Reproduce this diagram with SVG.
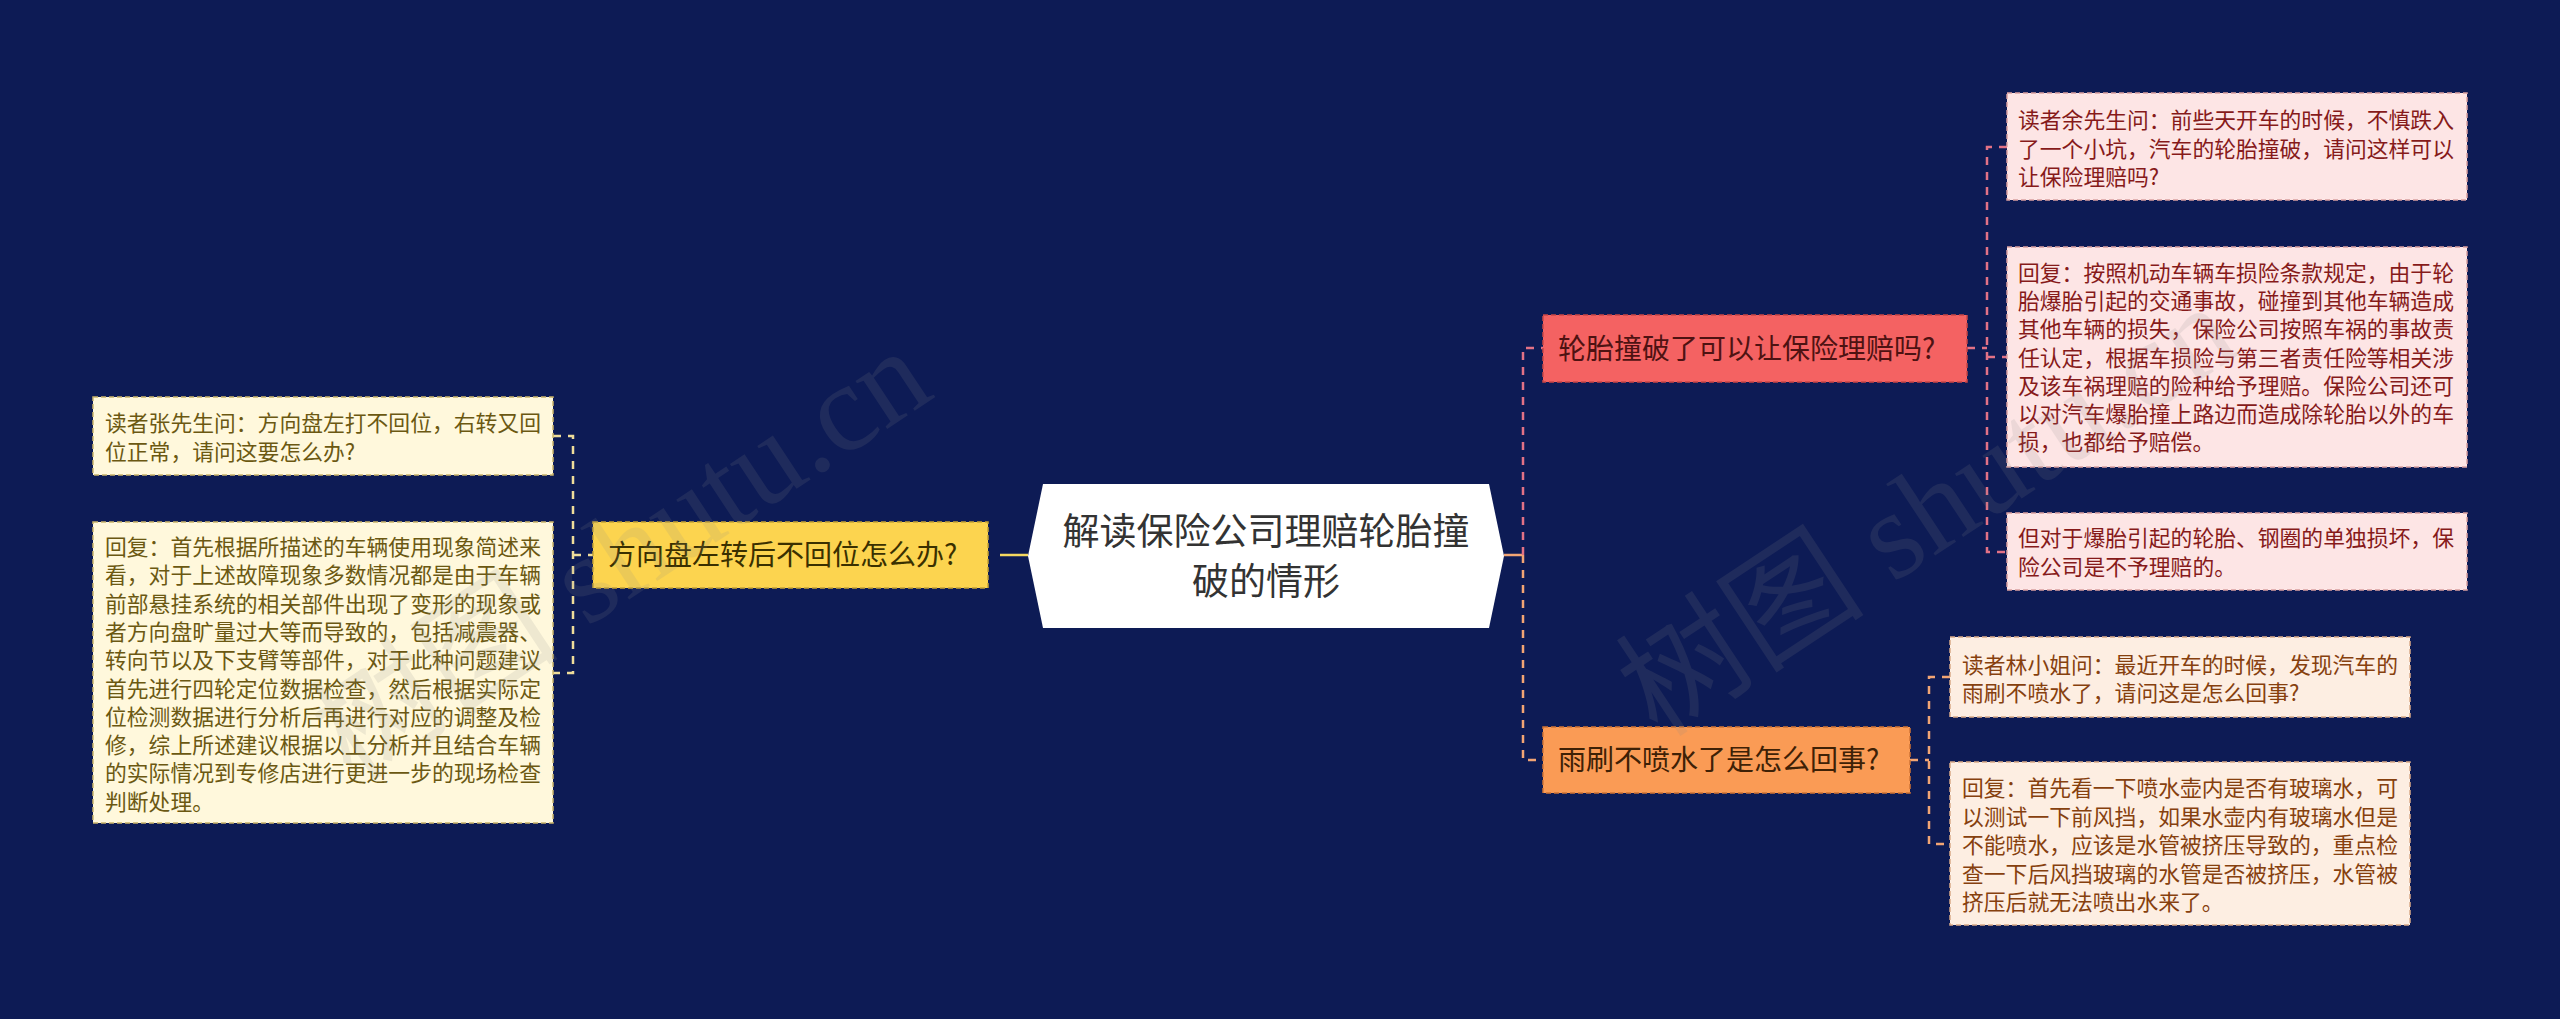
<svg xmlns="http://www.w3.org/2000/svg" width="2560" height="1019" viewBox="0 0 2560 1019">
<style>
.cjk{font-family:"Noto Sans CJK SC","Noto Sans",sans-serif;}
.leaf{font-size:21.8px;}
.br{font-size:28px;}
.rootT{font-size:37px;fill:#333333;}
.yl rect{fill:#fff8dc;stroke:#c9b46a;stroke-width:1.5;stroke-dasharray:5 3;}
.yl text{fill:#6b5812;}
.rl rect{fill:#fde5e5;stroke:#d9a0a0;stroke-width:1.5;stroke-dasharray:5 3;}
.rl text{fill:#861a1a;}
.ol rect{fill:#fdeee2;stroke:#d9aa88;stroke-width:1.5;stroke-dasharray:5 3;}
.ol text{fill:#86400e;}
.conn line, .conn path{fill:none;stroke-width:2.5;}
.dy{stroke:#eedc9a;stroke-dasharray:8 7;}
.dp{stroke:#e27286;stroke-dasharray:8 7;}
.do{stroke:#f2a574;stroke-dasharray:8 7;}
.wm{font-family:"Liberation Serif","Noto Sans CJK SC",serif;font-size:125px;fill:#8a8a8a;opacity:0.14;}
</style>
<rect x="0" y="0" width="2560" height="1019" fill="#0d1b55"/>

<g id="connectors" class="conn">
  <line x1="1000" y1="555" x2="1028" y2="555" stroke="#f5d860"/>
  <line x1="573" y1="555" x2="593" y2="555" class="dy"/>
  <path d="M553 436 H573 V673 H553" class="dy"/>
  <line x1="1504" y1="555" x2="1523" y2="555" stroke="#f2a574"/>
  <path d="M1523 555 V348 H1543" class="dp"/>
  <path d="M1523 555 V760 H1543" class="do"/>
  <line x1="1967" y1="348" x2="1987" y2="348" class="dp"/>
  <path d="M2007 147 H1987 V552 H2007" class="dp"/>
  <line x1="1987" y1="357" x2="2007" y2="357" class="dp"/>
  <line x1="1910" y1="760" x2="1929" y2="760" class="do"/>
  <path d="M1950 677 H1929 V844 H1950" class="do"/>
</g>

<g id="root">
  <polygon points="1028,556 1043,484 1489,484 1504,556 1489,628 1043,628" fill="#ffffff"/>
  <text class="cjk rootT" text-anchor="middle"><tspan x="1266" y="545">解读保险公司理赔轮胎撞</tspan><tspan x="1266" y="595">破的情形</tspan></text>
</g>

<g id="branch-left">
  <rect x="593" y="522" width="395" height="66" fill="#fcd44f" stroke="#c4a236" stroke-width="1.5" stroke-dasharray="5 3"/>
  <text class="cjk br" x="608" y="565" fill="#3a3000">方向盘左转后不回位怎么办?</text>
</g>

<g id="leaf-left-1" class="yl">
  <rect x="93" y="397" width="460" height="78"/>
  <text class="cjk leaf"><tspan x="105" y="431">读者张先生问：方向盘左打不回位，右转又回</tspan><tspan x="105" y="460">位正常，请问这要怎么办?</tspan></text>
</g>

<g id="leaf-left-2" class="yl">
  <rect x="93" y="522" width="460" height="301"/>
  <text class="cjk leaf"><tspan x="105" y="555">回复：首先根据所描述的车辆使用现象简述来</tspan><tspan x="105" y="583.3">看，对于上述故障现象多数情况都是由于车辆</tspan><tspan x="105" y="611.6">前部悬挂系统的相关部件出现了变形的现象或</tspan><tspan x="105" y="639.9">者方向盘旷量过大等而导致的，包括减震器、</tspan><tspan x="105" y="668.2">转向节以及下支臂等部件，对于此种问题建议</tspan><tspan x="105" y="696.5">首先进行四轮定位数据检查，然后根据实际定</tspan><tspan x="105" y="724.8">位检测数据进行分析后再进行对应的调整及检</tspan><tspan x="105" y="753.1">修，综上所述建议根据以上分析并且结合车辆</tspan><tspan x="105" y="781.4">的实际情况到专修店进行更进一步的现场检查</tspan><tspan x="105" y="809.7">判断处理。</tspan></text>
</g>

<g id="branch-red">
  <rect x="1543" y="315" width="424" height="67" fill="#f46262" stroke="#c84646" stroke-width="1.5" stroke-dasharray="5 3"/>
  <text class="cjk br" x="1558" y="359" fill="#4e1212">轮胎撞破了可以让保险理赔吗?</text>
</g>

<g id="leaf-red-1" class="rl">
  <rect x="2007" y="93" width="460" height="107"/>
  <text class="cjk leaf"><tspan x="2018" y="128">读者余先生问：前些天开车的时候，不慎跌入</tspan><tspan x="2018" y="156.5">了一个小坑，汽车的轮胎撞破，请问这样可以</tspan><tspan x="2018" y="185">让保险理赔吗?</tspan></text>
</g>

<g id="leaf-red-2" class="rl">
  <rect x="2007" y="247" width="460" height="220"/>
  <text class="cjk leaf"><tspan x="2018" y="281">回复：按照机动车辆车损险条款规定，由于轮</tspan><tspan x="2018" y="309.2">胎爆胎引起的交通事故，碰撞到其他车辆造成</tspan><tspan x="2018" y="337.4">其他车辆的损失，保险公司按照车祸的事故责</tspan><tspan x="2018" y="365.6">任认定，根据车损险与第三者责任险等相关涉</tspan><tspan x="2018" y="393.8">及该车祸理赔的险种给予理赔。保险公司还可</tspan><tspan x="2018" y="422">以对汽车爆胎撞上路边而造成除轮胎以外的车</tspan><tspan x="2018" y="450.2">损，也都给予赔偿。</tspan></text>
</g>

<g id="leaf-red-3" class="rl">
  <rect x="2007" y="513" width="460" height="77"/>
  <text class="cjk leaf"><tspan x="2018" y="546">但对于爆胎引起的轮胎、钢圈的单独损坏，保</tspan><tspan x="2018" y="575">险公司是不予理赔的。</tspan></text>
</g>

<g id="branch-orange">
  <rect x="1543" y="727" width="367" height="66" fill="#fa9b55" stroke="#cf7434" stroke-width="1.5" stroke-dasharray="5 3"/>
  <text class="cjk br" x="1558" y="770" fill="#3e2106">雨刷不喷水了是怎么回事?</text>
</g>

<g id="leaf-orange-1" class="ol">
  <rect x="1950" y="637" width="460" height="80"/>
  <text class="cjk leaf"><tspan x="1962" y="673">读者林小姐问：最近开车的时候，发现汽车的</tspan><tspan x="1962" y="701">雨刷不喷水了，请问这是怎么回事?</tspan></text>
</g>

<g id="leaf-orange-2" class="ol">
  <rect x="1950" y="762" width="460" height="163"/>
  <text class="cjk leaf"><tspan x="1962" y="796">回复：首先看一下喷水壶内是否有玻璃水，可</tspan><tspan x="1962" y="824.5">以测试一下前风挡，如果水壶内有玻璃水但是</tspan><tspan x="1962" y="853">不能喷水，应该是水管被挤压导致的，重点检</tspan><tspan x="1962" y="881.5">查一下后风挡玻璃的水管是否被挤压，水管被</tspan><tspan x="1962" y="910">挤压后就无法喷出水来了。</tspan></text>
</g>

<g id="watermarks">
  <text class="wm" transform="translate(352,783) rotate(-33.5)">树图 shutu.cn</text>
  <text class="wm" transform="translate(1658,739) rotate(-33.5)">树图 shutu.cn</text>
</g>
</svg>
